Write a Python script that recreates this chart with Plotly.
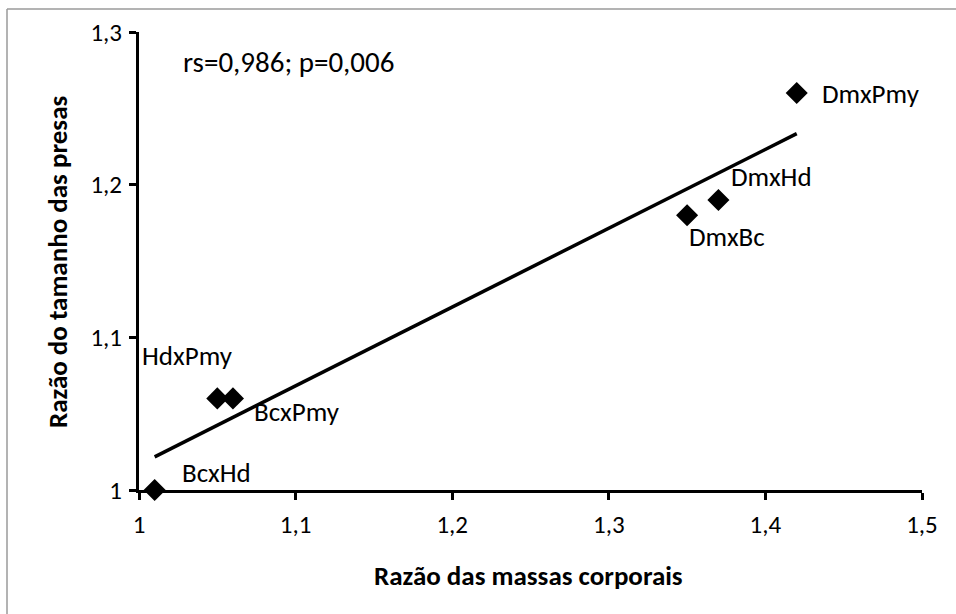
import numpy as np
import plotly.graph_objects as go

# Pairwise ratios between species
pairs = ["BcxHd", "HdxPmy", "BcxPmy", "DmxBc", "DmxHd", "DmxPmy"]
mass_ratio = [1.01, 1.05, 1.06, 1.35, 1.37, 1.42]
prey_ratio = [1.00, 1.06, 1.06, 1.18, 1.19, 1.26]

x_ticks = [1.0, 1.1, 1.2, 1.3, 1.4, 1.5]
x_tick_text = ["1", "1,1", "1,2", "1,3", "1,4", "1,5"]
y_ticks = [1.0, 1.1, 1.2, 1.3]
y_tick_text = ["1", "1,1", "1,2", "1,3"]

stats_text = "rs=0,986; p=0,006"
x_title = "Razão das massas corporais"
y_title = "Razão do tamanho das presas"

# label offsets (pixels) relative to each point: (xshift, yshift)
label_offsets = {
    "BcxHd": (25, 18),
    "HdxPmy": (-77, 43),
    "BcxPmy": (19, -13),
    "DmxBc": (0, -21),
    "DmxHd": (11, 23),
    "DmxPmy": (23, 0),
}

FONT = "Carlito, Calibri, Lato, sans-serif"
W, H = 956, 614
L, R, T, B = 139, 34, 32, 124
pw, ph = W - L - R, H - T - B


def px(xp):
    return (xp - L) / pw


def py(yp):
    return (H - B - yp) / ph


# least-squares trend line over the observed range
slope, intercept = np.polyfit(mass_ratio, prey_ratio, 1)
trend_x = np.array([min(mass_ratio), max(mass_ratio)])
trend_y = slope * trend_x + intercept

fig = go.Figure()
fig.add_trace(go.Scatter(
    x=trend_x, y=trend_y, mode="lines",
    line=dict(color="black", width=3.5),
    hoverinfo="skip", showlegend=False,
))
fig.add_trace(go.Scatter(
    x=mass_ratio, y=prey_ratio, mode="markers",
    marker=dict(symbol="diamond", size=17, color="black"),
    cliponaxis=False, showlegend=False,
))

annotations = []
for name, xv, yv in zip(pairs, mass_ratio, prey_ratio):
    dx, dy = label_offsets[name]
    annotations.append(dict(
        x=xv, y=yv, xref="x", yref="y", text=name, showarrow=False,
        xanchor="left", yanchor="middle", xshift=dx, yshift=dy,
        font=dict(family=FONT, size=27, color="black"),
    ))
annotations.append(dict(
    x=px(181), y=py(62), xref="paper", yref="paper", text=stats_text,
    showarrow=False, xanchor="left", yanchor="middle",
    font=dict(family=FONT, size=29, color="black"),
))
annotations.append(dict(
    x=px(528), y=py(575), xref="paper", yref="paper",
    text="<b>" + x_title + "</b>", showarrow=False,
    xanchor="center", yanchor="middle",
    font=dict(family=FONT, size=27, color="black"),
))
annotations.append(dict(
    x=px(57), y=py(262), xref="paper", yref="paper",
    text="<b>" + y_title + "</b>", showarrow=False, textangle=-90,
    xanchor="center", yanchor="middle",
    font=dict(family=FONT, size=27, color="black"),
))

# thin grey frame along the top and left edges
shapes = [
    dict(type="line", xref="paper", yref="paper",
         x0=px(7), x1=px(W + 5), y0=py(9), y1=py(9),
         line=dict(color="#9a9a9a", width=1.5)),
    dict(type="line", xref="paper", yref="paper",
         x0=px(7), x1=px(7), y0=py(9), y1=py(H + 5),
         line=dict(color="#9a9a9a", width=1.5)),
]

axis_common = dict(
    showgrid=False, zeroline=False, showline=True,
    linecolor="black", linewidth=3, ticks="outside",
    tickcolor="black", tickwidth=3, ticklen=7,
    tickfont=dict(family=FONT, size=25, color="black"),
)

fig.update_layout(
    width=W, height=H,
    margin=dict(l=L, r=R, t=T, b=B, pad=0),
    paper_bgcolor="white", plot_bgcolor="white",
    xaxis=dict(range=[1.0, 1.5], tickvals=x_ticks, ticktext=x_tick_text,
               ticklabelstandoff=3, **axis_common),
    yaxis=dict(range=[1.0, 1.3], tickvals=y_ticks, ticktext=y_tick_text,
               ticklabelstandoff=2, **axis_common),
    annotations=annotations,
    shapes=shapes,
)

fig.write_html("out.html")
